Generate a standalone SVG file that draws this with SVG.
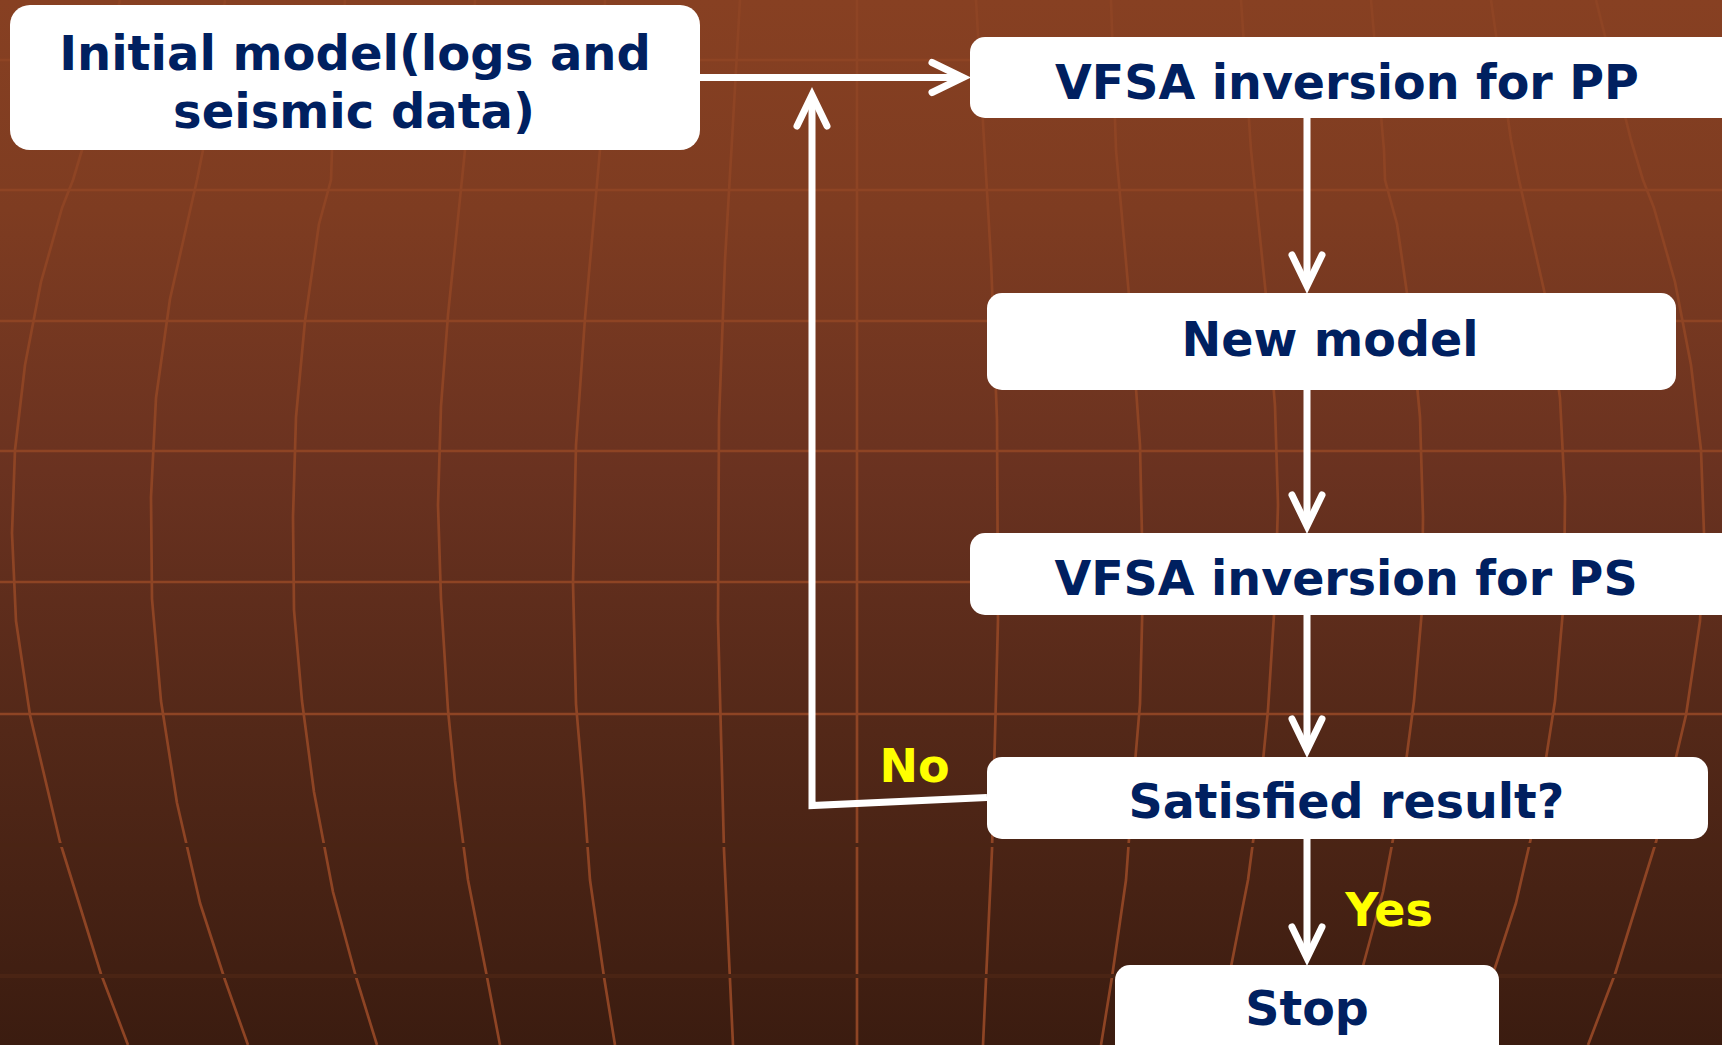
<svg xmlns="http://www.w3.org/2000/svg" xmlns:xlink="http://www.w3.org/1999/xlink" width="1722" height="1045" viewBox="0 0 1722 1045">
<style>
.grid{fill:none;stroke:#8E4424;stroke-width:2.7;stroke-linejoin:round}
.band{fill:none;stroke:#4A2414;stroke-width:4}
.box{fill:#ffffff}
.lbl{font-family:"DejaVu Sans","Verdana",sans-serif;font-weight:bold;fill:#002060;text-anchor:middle}
.yn{font-family:"DejaVu Sans","Verdana",sans-serif;font-weight:bold;fill:#FFFF00;text-anchor:middle;font-size:46px}
.conn{fill:none;stroke:#ffffff;stroke-width:7;stroke-linejoin:miter}
</style>
<defs>
<linearGradient id="bg" x1="0" y1="0" x2="0" y2="1">
<stop offset="0" stop-color="#874022"/>
<stop offset="0.2" stop-color="#7E3C21"/>
<stop offset="0.45" stop-color="#6A3220"/>
<stop offset="0.7" stop-color="#532818"/>
<stop offset="1" stop-color="#3B1C10"/>
</linearGradient>
<marker id="arr" markerUnits="userSpaceOnUse" markerWidth="60" markerHeight="60" refX="-1" refY="0" orient="auto" overflow="visible">
<path d="M-31,-15 L0,0 L-31,15" fill="none" stroke="#ffffff" stroke-width="7" stroke-linecap="round" stroke-linejoin="miter"/>
</marker>
<g id="gridHalf">
<path class="grid" d="M120,0 L85,140 L73,180 L62,208 L41,282 L25,365 L15,450 L12,533 L16,621 L30,715 L60,842 L101,974 L128,1045"/>
<path class="grid" d="M225,0 L205,140 L197,180 L170,299 L156,398 L151,497 L152,599 L161,701 L177,803 L200,903 L225,980 L248,1045"/>
<path class="grid" d="M345,0 L332,150 L331,180 L319,224 L305,321 L296,417 L293,517 L294,610 L302,701 L314,792 L333,892 L356,977 L377,1045"/>
<path class="grid" d="M475,0 L465,150 L448,315 L441,406 L438,505 L441,599 L448,710 L455,781 L468,880 L487,977 L500,1045"/>
<path class="grid" d="M605,0 L600,150 L585,318 L576,445 L573,583 L576,704 L584,798 L590,880 L604,977 L615,1045"/>
<path class="grid" d="M740,0 L732,140 L725,260 L719,420 L718,620 L724,850 L733,1045"/>
</g>
</defs>
<rect x="0" y="0" width="1722" height="1045" fill="url(#bg)"/>
<g id="background-grid">
<use xlink:href="#gridHalf"/>
<use xlink:href="#gridHalf" transform="translate(1716,0) scale(-1,1)"/>
<path class="grid" d="M857,0 L857,1045"/>
<path class="grid" d="M0,60 H1722 M0,190 H1722 M0,321 H1722 M0,451 H1722 M0,582 H1722 M0,714 H1722"/>
<path class="band" d="M0,845 H1722 M0,976 H1722"/>
</g>
<g id="connectors">
<path class="conn" d="M700,77.5 L962,77.5" marker-end="url(#arr)"/>
<path class="conn" d="M987,797.5 L812,805.5 L812,96" marker-end="url(#arr)"/>
<path class="conn" d="M1307,118 L1307,285" marker-end="url(#arr)"/>
<path class="conn" d="M1307,390 L1307,525" marker-end="url(#arr)"/>
<path class="conn" d="M1307,615 L1307,749" marker-end="url(#arr)"/>
<path class="conn" d="M1307,839 L1307,957" marker-end="url(#arr)"/>
<text class="yn" x="914.5" y="782">No</text>
<text class="yn" x="1389" y="926">Yes</text>
</g>
<g id="node-initial">
<rect class="box" x="10" y="5" width="690" height="145" rx="20"/>
<text class="lbl" x="355" y="70" font-size="48">Initial model(logs and</text>
<text class="lbl" x="354" y="128" font-size="48">seismic data)</text>
</g>
<g id="node-vfsa-pp">
<rect class="box" x="970" y="37" width="770" height="81" rx="15"/>
<text class="lbl" x="1347" y="99" font-size="47.5">VFSA inversion for PP</text>
</g>
<g id="node-new-model">
<rect class="box" x="987" y="293" width="689" height="97" rx="15"/>
<text class="lbl" x="1330" y="356" font-size="47.5">New model</text>
</g>
<g id="node-vfsa-ps">
<rect class="box" x="970" y="533" width="770" height="82" rx="15"/>
<text class="lbl" x="1346" y="594.5" font-size="47.5">VFSA inversion for PS</text>
</g>
<g id="node-satisfied">
<rect class="box" x="987" y="757" width="721" height="82" rx="15"/>
<text class="lbl" x="1346.5" y="818" font-size="47.5">Satisfied result?</text>
</g>
<g id="node-stop">
<rect class="box" x="1115" y="965" width="384" height="100" rx="15"/>
<text class="lbl" x="1307" y="1025" font-size="47.5">Stop</text>
</g>
</svg>
